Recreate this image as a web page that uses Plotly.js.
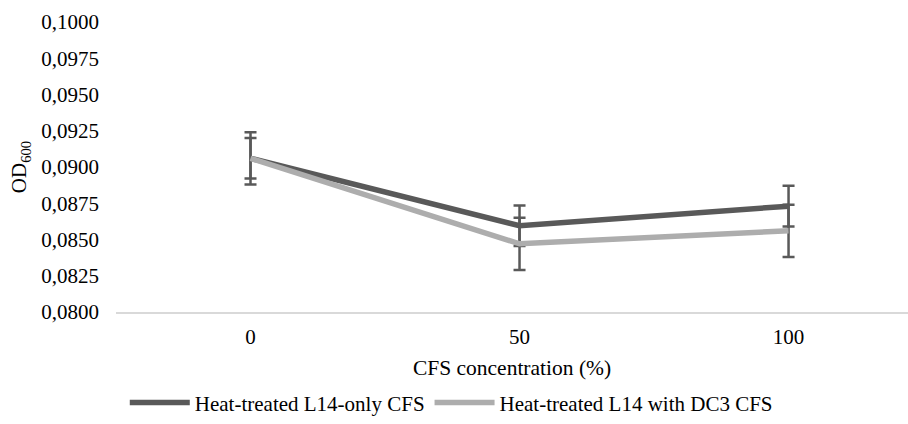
<!DOCTYPE html>
<html>
<head>
<meta charset="utf-8">
<script src="https://cdn.plot.ly/plotly-3.0.1.min.js"></script>
<style>html,body{margin:0;padding:0;background:#fff;}#chart{width:908px;height:424px;}</style>
</head>
<body>
<div id="chart"></div>
<script>
const categories = ['0', '50', '100'];
const seriesNames = ['Heat-treated L14-only CFS', 'Heat-treated L14 with DC3 CFS'];
const l14Only = [0.0906, 0.08595, 0.0873];
const l14OnlyErr = [0.0014, 0.0014, 0.0014];
const l14DC3 = [0.0906, 0.0847, 0.0856];
const l14DC3Err = [0.0018, 0.0018, 0.0018];
const yTicks = [0.08, 0.0825, 0.085, 0.0875, 0.09, 0.0925, 0.095, 0.0975, 0.1];

const font = 'Times New Roman';
const errStyle = {type: 'data', visible: true, color: '#595959', thickness: 2.5, width: 6};

const traces = [
  {
    x: categories, y: l14Only, name: seriesNames[0], type: 'scatter', mode: 'lines',
    line: {color: '#595959', width: 5.5},
    error_y: Object.assign({array: l14OnlyErr}, errStyle)
  },
  {
    x: categories, y: l14DC3, name: seriesNames[1], type: 'scatter', mode: 'lines',
    line: {color: '#adadad', width: 5.5},
    error_y: Object.assign({array: l14DC3Err}, errStyle)
  }
];

const layout = {
  width: 908, height: 424,
  margin: {l: 116, r: 0, t: 22, b: 112, autoexpand: false},
  paper_bgcolor: '#fff', plot_bgcolor: '#fff',
  font: {family: font, size: 21, color: '#000'},
  separators: ',.',
  showlegend: true,
  legend: {orientation: 'h', x: 0.497, xanchor: 'center', xref: 'container',
           y: 0.05, yanchor: 'middle', yref: 'container',
           font: {family: font, size: 21, color: '#000'}, itemwidth: 60, traceorder: 'normal'},
  xaxis: {
    type: 'category', range: [-0.5, 2.444], showgrid: false, zeroline: false,
    showline: true, linecolor: '#d9d9d9', linewidth: 2, ticks: '', ticklabelstandoff: 5,
    tickfont: {family: font, size: 21, color: '#000'},
    title: {text: 'CFS concentration (%)', font: {family: font, size: 21.5, color: '#000'}, standoff: 12}
  },
  yaxis: {
    range: [0.08, 0.1], tickvals: yTicks, tickformat: '.4f', showgrid: false, zeroline: false,
    showline: false, ticks: '', ticklabelstandoff: 16,
    tickfont: {family: font, size: 21, color: '#000'},
    title: {text: 'OD<sub>600</sub>', font: {family: font, size: 21, color: '#000'}, standoff: 8}
  }
};

Plotly.newPlot('chart', traces, layout, {displayModeBar: false, staticPlot: true});
</script>
</body>
</html>
